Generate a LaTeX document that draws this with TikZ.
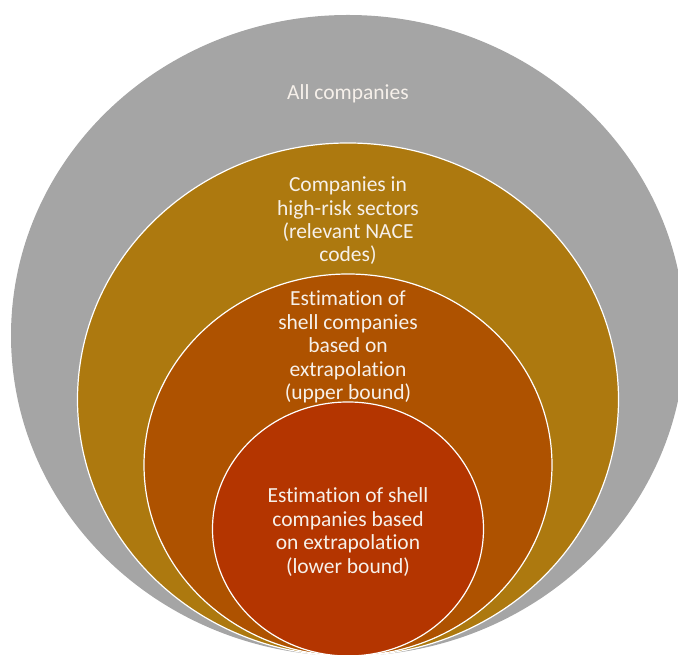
\documentclass[tikz,border=0pt]{standalone}
\usepackage{fontspec}
\setmainfont{Carlito}[Ligatures={NoCommon,NoDiscretionary,NoContextual}]
\usetikzlibrary{shapes.geometric}
\definecolor{cgrey}{RGB}{165,165,165}
\definecolor{cgold}{RGB}{173,121,15}
\definecolor{corange}{RGB}{174,82,0}
\definecolor{cred}{RGB}{180,53,0}
\definecolor{ctext}{RGB}{246,240,234}
\tikzset{
  ring/.style={ellipse, inner sep=0pt, draw=white, line width=1.2pt},
  lbl/.style={align=center, text=ctext, inner sep=0pt, font=\fontsize{21.5}{23.4}\selectfont}
}
\begin{document}
\begin{tikzpicture}[x=1pt,y=1pt]
\useasboundingbox (0,0) rectangle (678,655);
\clip (0,0) rectangle (678,655);
\node[ellipse, inner sep=0pt, fill=cgrey, minimum width=674pt, minimum height=641pt] (all) at (348,319.5) {};
\node[ring, fill=cgold, minimum width=541pt, minimum height=513pt] (risk) at (348,255.5) {};
\node[ring, fill=corange, minimum width=408pt, minimum height=382pt] (upper) at (348,190) {};
\node[ring, fill=cred, minimum width=271pt, minimum height=254pt] (lower) at (348,126) {};
\node[lbl] (tall) at (348,561) {All companies};
\node[lbl] (trisk) at (348,434) {Companies in\\high-risk sectors\\(relevant NACE\\codes)};
\node[lbl] (tupper) at (348,308) {Estimation of\\shell companies\\based on\\extrapolation\\(upper bound)};
\node[lbl] (tlower) at (348,123) {Estimation of shell\\companies based\\on extrapolation\\(lower bound)};
\end{tikzpicture}
\end{document}
